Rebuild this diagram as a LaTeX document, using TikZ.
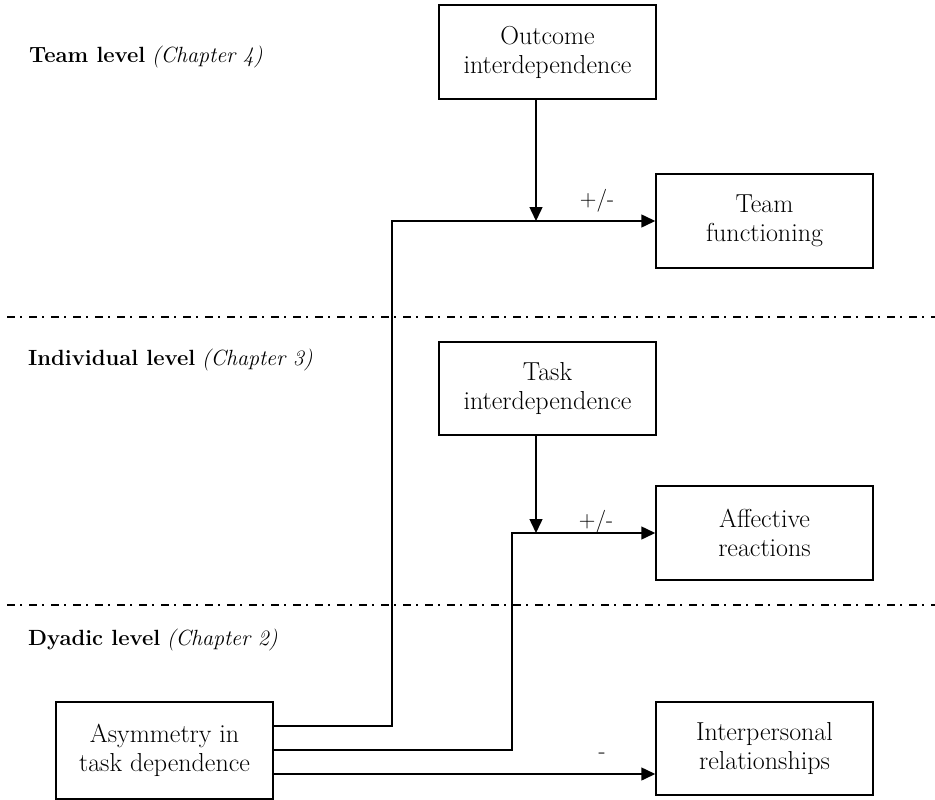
\documentclass[tikz,border=0pt]{standalone}
\usepackage{fontspec}
\setmainfont{Latin Modern Roman}
\usetikzlibrary{arrows.meta,calc}
\begin{document}
\begin{tikzpicture}[x={(1pt,0)},y={(0,-1pt)},
  box/.style={draw,line width=1.5pt,minimum width=217pt,minimum height=94pt,align=center,inner sep=2pt,
    font=\fontsize{26}{29}\selectfont},
  conn/.style={line width=1.5pt},
  arr/.style={conn,-{Triangle[length=14pt,width=13pt]}},
  lvl/.style={anchor=base west,font=\fontsize{22}{26}\selectfont,inner sep=0pt},
  sep/.style={line width=1.5pt,dash pattern=on 8pt off 5pt on 2pt off 7pt},
  lab/.style={font=\fontsize{23}{26}\selectfont,inner sep=0pt}]
\useasboundingbox (0,0) rectangle (935,800);
% level labels
\node[lvl] (l4) at (29,63) {\textbf{Team level} \textit{(Chapter 4)}};
\node[lvl] (l3) at (28,365) {\textbf{Individual level} \textit{(Chapter 3)}};
\node[lvl] (l2) at (28,645) {\textbf{Dyadic level} \textit{(Chapter 2)}};
% separators
\coordinate (d1a) at (7,317); \coordinate (d1b) at (935,317);
\coordinate (d2a) at (7,605); \coordinate (d2b) at (935,605);
\draw[sep] (d1a) -- (d1b);
\draw[sep] (d2a) -- (d2b);
% boxes
\node[box] (oi) at (547.5,52) {Outcome\\interdependence};
\node[box] (tf) at (764.5,221) {Team\\functioning};
\node[box,minimum height=93pt] (ti) at (547.5,388.5) {Task\\interdependence};
\node[box] (ar) at (764.5,533) {Affective\\reactions};
\node[box,minimum height=97pt] (asym) at (164.5,750.5) {Asymmetry in\\task dependence};
\node[box,minimum height=93pt] (ir) at (764.5,748.5) {Interpersonal\\relationships};
% junction coordinates
\coordinate (m1) at (536,221);
\coordinate (m2) at (536,533);
\coordinate (s1) at ($(asym.east)+(0,-24.5)$);
\coordinate (s2) at ($(asym.east)+(0,-0.5)$);
\coordinate (s3) at ($(asym.east)+(0,23.5)$);
\coordinate (c1) at (392,221);
\coordinate (c2) at (512,533);
% connectors
\draw[arr] (oi.south -| m1) -- (m1);
\draw[arr] (ti.south -| m2) -- (m2);
\draw[arr] (s1) -| (c1) -- (tf.west);
\draw[arr] (s2) -| (c2) -- (ar.west);
\draw[arr] (s3) -- (ir.west |- s3);
% labels
\node[lab] (p1) at (597,201) {+/-};
\node[lab] (p2) at (596,522) {+/-};
\node[lab] (p3) at (602,756) {-};
\end{tikzpicture}
\end{document}
